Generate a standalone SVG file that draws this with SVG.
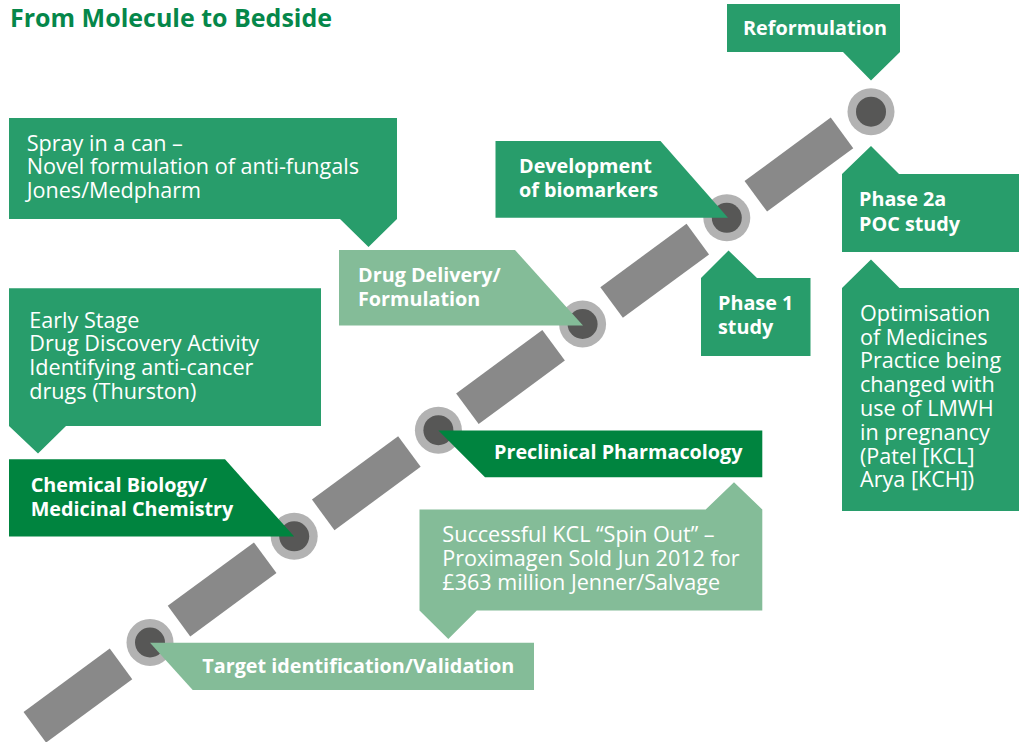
<svg xmlns="http://www.w3.org/2000/svg" width="1019" height="742" viewBox="0 0 1019 742">
<style>
  text { font-family: 'Open Sans', 'Noto Sans', 'DejaVu Sans', sans-serif; fill: #ffffff; }
  .title { font-size: 25px; font-weight: 700; fill: #05874a; }
  .lbl { font-size: 19.8px; font-weight: 700; }
  .txt { font-size: 21.6px; font-weight: 400; }
  .mid { fill: #289d6b; }
  .dark { fill: #00843f; }
  .light { fill: #84bc98; }
  .dash { stroke: #898989; stroke-width: 38; stroke-linecap: butt; fill: none; }
  .ring { fill: #b2b2b2; }
  .core { fill: #575756; }
</style>

<text class="title" x="10" y="27">From Molecule to Bedside</text>

<g id="connectors">
  <line class="dash" x1="34.8" y1="727.3" x2="121.0" y2="663.9"/>
  <line class="dash" x1="179.0" y1="621.1" x2="265.2" y2="557.7"/>
  <line class="dash" x1="323.2" y1="514.9" x2="409.4" y2="451.5"/>
  <line class="dash" x1="467.4" y1="408.7" x2="553.6" y2="345.3"/>
  <line class="dash" x1="611.6" y1="302.5" x2="697.8" y2="239.1"/>
  <line class="dash" x1="755.8" y1="196.3" x2="842.0" y2="132.9"/>
</g>

<g id="milestones">
  <g id="m1"><circle class="ring" cx="150" cy="642.5" r="23.5"/><circle class="core" cx="150" cy="642.5" r="15"/></g>
  <g id="m2"><circle class="ring" cx="294.2" cy="536.3" r="23.5"/><circle class="core" cx="294.2" cy="536.3" r="15"/></g>
  <g id="m3"><circle class="ring" cx="438.4" cy="430.2" r="23.5"/><circle class="core" cx="438.4" cy="430.2" r="15"/></g>
  <g id="m4"><circle class="ring" cx="582.6" cy="324" r="23.5"/><circle class="core" cx="582.6" cy="324" r="15"/></g>
  <g id="m5"><circle class="ring" cx="726.8" cy="217.8" r="23.5"/><circle class="core" cx="726.8" cy="217.8" r="15"/></g>
  <g id="m6"><circle class="ring" cx="871" cy="111.7" r="23.5"/><circle class="core" cx="871" cy="111.7" r="15"/></g>
</g>

<g id="reformulation">
  <polygon class="mid" points="727,4 900,4 900,52 871,80.5 843,52 727,52"/>
  <text class="lbl" x="743" y="34.5">Reformulation</text>
</g>

<g id="phase2a">
  <polygon class="mid" points="842,252 842,174 871,146 899,174 1019,174 1019,252"/>
  <text class="lbl" x="859" y="206">Phase 2a</text>
  <text class="lbl" x="859" y="230.5">POC study</text>
</g>

<g id="optimisation">
  <polygon class="mid" points="842,511 842,288 871,259.5 899.5,288 1019,288 1019,511"/>
  <text class="txt" x="860" y="320.7">Optimisation</text>
  <text class="txt" x="860" y="344.5">of Medicines</text>
  <text class="txt" x="860" y="368.3">Practice being</text>
  <text class="txt" x="860" y="392.1">changed with</text>
  <text class="txt" x="860" y="415.9">use of LMWH</text>
  <text class="txt" x="860" y="439.7">in pregnancy</text>
  <text class="txt" x="860" y="463.5">(Patel [KCL]</text>
  <text class="txt" x="860" y="487.3">Arya [KCH])</text>
</g>

<g id="biomarkers">
  <polygon class="mid" points="495.5,141 660.5,141 728,217.8 495.5,217.8"/>
  <text class="lbl" x="519" y="173.3">Development</text>
  <text class="lbl" x="519" y="196.7">of biomarkers</text>
</g>

<g id="phase1">
  <polygon class="mid" points="701,356 701,278 728.5,250.5 757,278 810.5,278 810.5,356"/>
  <text class="lbl" x="718" y="310">Phase 1</text>
  <text class="lbl" x="718" y="333.5">study</text>
</g>

<g id="drug-delivery">
  <polygon class="light" points="339,250 515,250 583,325.5 339,325.5"/>
  <text class="lbl" x="358" y="281.7">Drug Delivery/</text>
  <text class="lbl" x="358" y="306">Formulation</text>
</g>

<g id="spray">
  <polygon class="mid" points="9,118 397,118 397,219 368.5,247 340,219 9,219"/>
  <text class="txt" x="26.7" y="150.5">Spray in a can –</text>
  <text class="txt" x="26.7" y="174">Novel formulation of anti-fungals</text>
  <text class="txt" x="26.7" y="197.5">Jones/Medpharm</text>
</g>

<g id="early-stage">
  <polygon class="mid" points="9,288.3 321,288.3 321,426 66,426 38,453.5 9,426"/>
  <text class="txt" x="29.3" y="327.5">Early Stage</text>
  <text class="txt" x="29.3" y="351.3">Drug Discovery Activity</text>
  <text class="txt" x="29.3" y="375.2">Identifying anti-cancer</text>
  <text class="txt" x="29.3" y="399">drugs (Thurston)</text>
</g>

<g id="chemical-biology">
  <polygon class="dark" points="9,459.3 225,459.3 294.2,536.5 9,536.5"/>
  <text class="lbl" x="30.7" y="492.3">Chemical Biology/</text>
  <text class="lbl" x="30.7" y="515.7">Medicinal Chemistry</text>
</g>

<g id="preclinical">
  <polygon class="dark" points="438.4,430.4 762.3,430.4 762.3,477.3 485,477.3"/>
  <text class="lbl" x="494" y="459.3">Preclinical Pharmacology</text>
</g>

<g id="spin-out">
  <polygon class="light" points="419.5,509.5 705.7,509.5 734,482.3 762.3,509.5 762.3,610.5 476.8,610.5 448.3,639 419.5,610.5"/>
  <text class="txt" x="442.3" y="541.7">Successful KCL “Spin Out” –</text>
  <text class="txt" x="442.3" y="566">Proximagen Sold Jun 2012 for</text>
  <text class="txt" x="442.3" y="590">£363 million Jenner/Salvage</text>
</g>

<g id="target">
  <polygon class="light" points="150,642.7 534,642.7 534,690 192.7,690"/>
  <text class="lbl" x="202.3" y="672.7">Target identification/Validation</text>
</g>
</svg>
